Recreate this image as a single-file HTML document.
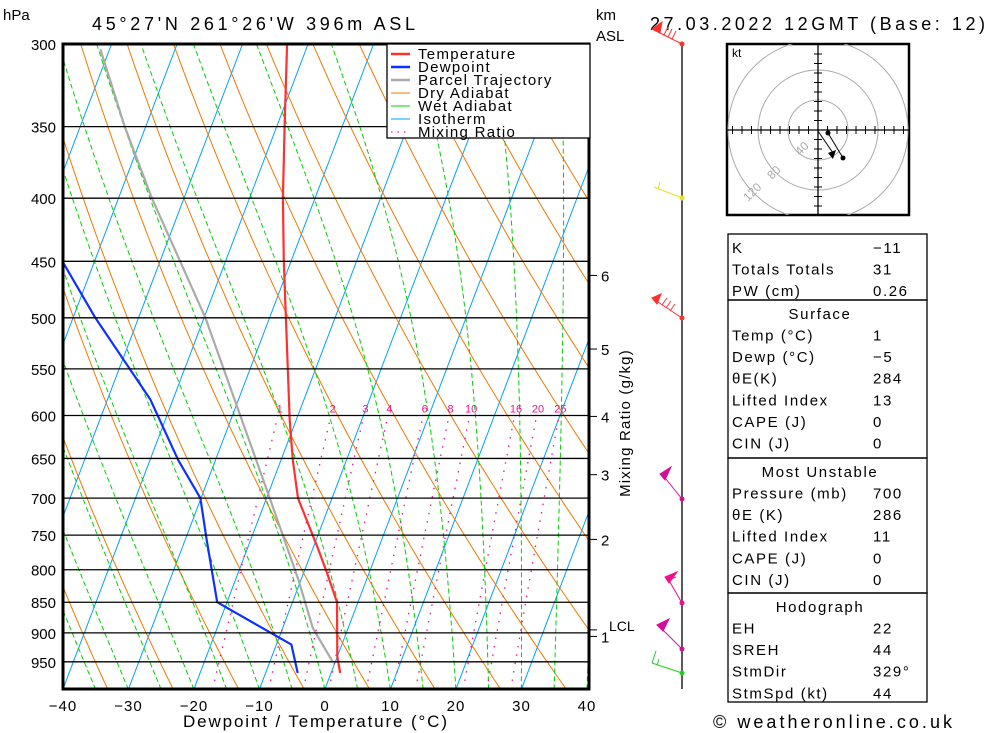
<!DOCTYPE html>
<html><head><meta charset="utf-8">
<style>
html,body{margin:0;padding:0;background:#fff;}
svg{display:block;}
text{font-family:"Liberation Sans","DejaVu Sans",sans-serif;}
</style></head>
<body>
<svg id="chart" width="1000" height="733" viewBox="0 0 1000 733" xmlns="http://www.w3.org/2000/svg">
<defs><clipPath id="plotclip"><rect x="63" y="44" width="525" height="645"/></clipPath>
<clipPath id="hodoclip"><rect x="727" y="44" width="182" height="171"/></clipPath></defs>
<g id="grid" clip-path="url(#plotclip)"></g>
<g id="profiles" clip-path="url(#plotclip)"></g>
<g id="axes"></g>
<g id="winds"></g>
<g id="hodo"></g>
<g id="table"></g>
</svg>
<script>
// ---- data ----
const pressureLevels=[300,350,400,450,500,550,600,650,700,750,800,850,900,950];
const tempTicks=[-40,-30,-20,-10,0,10,20,30,40];
const tempP=[970,941,850,805,768,700,652,605,500,450,400,350,300];
const tempT=[1.4,0.0,-3.2,-6.4,-9.3,-15.2,-18.2,-21.0,-27.5,-31.1,-34.9,-38.8,-43.2];
const dewP=[970,920,850,757,700,652,582,500,450];
const dewT=[-5.1,-7.7,-21.5,-26.7,-30.1,-35.7,-43.5,-56.6,-64.9];
const parcelP=[950,892,815,700,500,400,350,303];
const parcelT=[-0.4,-5.4,-10.4,-19.5,-39.8,-54.9,-63.2,-71.4];
const mixRatios=[1,2,3,4,6,8,10,16,20,25];
const kmLabels=["6","5","4","3","2","1"];
const kmP=[462,530,601,670,756,906];
const lclP=895;

// ---- axes functions ----
const X0=63,PX=6.55,YB=689,SK=0.38,Y300=44,KP=536;
function yP(p){return Y300+KP*Math.log(p/300);}
function xT(t,p){const y=yP(p);return X0+(t+40)*PX+(YB-y)*SK;}
const NS="http://www.w3.org/2000/svg";
function el(tag,attrs,parent){const e=document.createElementNS(NS,tag);for(const k in attrs)e.setAttribute(k,attrs[k]);parent.appendChild(e);return e;}
const grid=document.getElementById('grid'),prof=document.getElementById('profiles'),axes=document.getElementById('axes');

function polyPts(ps,ts){return ps.map((p,i)=>xT(ts[i],p).toFixed(1)+","+yP(p).toFixed(1)).join(" ");}

// isotherms
for(let t=-130;t<=40;t+=10){
  const l=el('line',{x1:xT(t,1000),y1:yP(1000),x2:xT(t,300),y2:yP(300),stroke:'#00a0ff','stroke-width':1},grid);
  
  
}
// dry adiabats
for(let th=190;th<=480;th+=10){
  const pts=[];for(let p=1000;p>=300;p-=10){const T=th*Math.pow(p/1000,0.286)-273.15;pts.push(xT(T,p).toFixed(1)+","+yP(p).toFixed(1));}
  const l=el('polyline',{points:pts.join(" "),fill:'none',stroke:'#f07800','stroke-width':1},grid);
  
  
}
// wet adiabats
function es(tc){return 6.112*Math.exp(17.67*tc/(tc+243.5));}
for(let t0=-40;t0<=40;t0+=5){
  let T=t0+273.15;const pts=[];
  for(let p=1000;p>=300;p-=2){
    pts.push(xT(T-273.15,p).toFixed(1)+","+yP(p).toFixed(1));
    const e=es(T-273.15),rs=0.622*e/(p-e);
    const dTdp=((287*T+2.5e6*rs)/(1004+2.5e6*2.5e6*rs*0.622/(287*T*T)))/p;
    T-=dTdp*2;
  }
  const l=el('polyline',{points:pts.join(" "),fill:'none',stroke:'#00d000','stroke-width':1,'stroke-dasharray':'5,3'},grid);
  
  
}
// mixing ratio lines
function tMix(w,p){const e=w/1000*p/(0.622+w/1000);const L=Math.log(e/6.112);return 243.5*L/(17.67-L);}
mixRatios.forEach(w=>{
  const pts=[];for(let p=1000;p>=600;p-=10)pts.push(xT(tMix(w,p),p).toFixed(1)+","+yP(p).toFixed(1));
  const l=el('polyline',{points:pts.join(" "),fill:'none',stroke:'#f0108c','stroke-width':1.3,'stroke-dasharray':'1.5,7'},grid);
  
  
  const tx=el('text',{x:xT(tMix(w,592),592),y:yP(592)+4,'font-size':11,fill:'#f0108c','text-anchor':'middle'},axes);
  tx.textContent=w;
  
  
});
// profiles
[[parcelP,parcelT,'#aaaaaa','parcel-trajectory'],[dewP,dewT,'#1030ff','dewpoint-line'],[tempP,tempT,'#ff3030','temperature-line']].forEach(a=>{
  const l=el('polyline',{points:polyPts(a[0],a[1]),fill:'none',stroke:a[2],'stroke-width':2.2,'stroke-linejoin':'round'},prof);
  
  
});
// pressure lines & labels
pressureLevels.forEach(p=>{
  const y=yP(p);
  const l=el('line',{x1:63,x2:588,y1:y,y2:y,stroke:'#000','stroke-width':1.3},axes);
  
  
  const t=el('text',{x:56,y:y+6,'font-size':15,'text-anchor':'end',fill:'#000'},axes);
  t.textContent=p;
  
  
});
tempTicks.forEach(t=>{
  const x=X0+(t+40)*PX;
  const tx=el('text',{x:x,y:711,'font-size':15,'text-anchor':'middle',fill:'#000','letter-spacing':1},axes);
  tx.textContent=(t<0?'\u2212'+(-t):t);
  
  
});
// km axis
kmP.forEach((p,i)=>{
  const y=yP(p);
  const l=el('line',{x1:590,x2:597,y1:y,y2:y,stroke:'#000'},axes);
  
  
  const t=el('text',{x:601,y:y+6,'font-size':15,fill:'#000'},axes);
  t.textContent=kmLabels[i];
  
  
});
{const y=yP(lclP);const l=el('line',{x1:590,x2:597,y1:y,y2:y,stroke:'#000'},axes);

}
</script>
<script>
(function(){
const axes=document.getElementById('axes');
axes.insertAdjacentHTML('beforeend',`
<rect x="63" y="44" width="526" height="645" fill="none" stroke="#000" stroke-width="3"/>
<g>
<rect x="387" y="44" width="203" height="94" fill="#fff" stroke="#000" stroke-width="1.3"/>
<line x1="391" x2="410" y1="54" y2="54" stroke="#ff3030" stroke-width="2.5"/>
<line x1="391" x2="410" y1="67" y2="67" stroke="#1030ff" stroke-width="2.5"/>
<line x1="391" x2="410" y1="80" y2="80" stroke="#aaa" stroke-width="2.5"/>
<line x1="391" x2="410" y1="93" y2="93" stroke="#f07800"/>
<line x1="391" x2="410" y1="106" y2="106" stroke="#00d000"/>
<line x1="391" x2="410" y1="119" y2="119" stroke="#00a0ff"/>
<line x1="391" x2="410" y1="132" y2="132" stroke="#f0108c" stroke-width="1.3" stroke-dasharray="1.5,5"/>
<g font-size="15" fill="#000" letter-spacing="1.3">
<text x="418" y="59">Temperature</text>
<text x="418" y="72">Dewpoint</text>
<text x="418" y="85">Parcel Trajectory</text>
<text x="418" y="98">Dry Adiabat</text>
<text x="418" y="111">Wet Adiabat</text>
<text x="418" y="124">Isotherm</text>
<text x="418" y="137">Mixing Ratio</text>
</g></g>
<text x="3" y="20" font-size="15">hPa</text>
<text x="92" y="30" font-size="18" textLength="323" lengthAdjust="spacing">45°27'N  261°26'W  396m  ASL</text>
<text x="596" y="20" font-size="15">km</text>
<text x="596" y="41" font-size="15">ASL</text>
<text x="650" y="30" font-size="18" textLength="335" lengthAdjust="spacing">27.03.2022  12GMT  (Base: 12)</text>
<text x="609" y="631" font-size="14">LCL</text>
<text transform="translate(630,423) rotate(-90)" text-anchor="middle" font-size="15" letter-spacing="1.2">Mixing Ratio (g/kg)</text>
<text x="183" y="727" font-size="17" textLength="264" lengthAdjust="spacing">Dewpoint / Temperature (°C)</text>
<text x="713" y="728" font-size="18" textLength="239" lengthAdjust="spacing">© weatheronline.co.uk</text>
`);
const winds=document.getElementById('winds');
winds.insertAdjacentHTML('beforeend',`
<line x1="682" y1="44" x2="682" y2="689" stroke="#000" stroke-width="1.3"/>
<g stroke="#ff3030" fill="#ff3030">
<line x1="682" y1="44" x2="652" y2="29"/><polygon points="652,29 662,22 660,33"/>
<line x1="664" y1="35" x2="668" y2="27"/><line x1="668" y1="37" x2="672" y2="29"/><line x1="672" y1="39" x2="676" y2="31"/>
<circle cx="682" cy="44" r="2.5" stroke="none"/></g>
<g stroke="#e8e020" fill="#e8e020">
<line x1="682" y1="198" x2="654" y2="187"/><line x1="658" y1="189" x2="660" y2="182"/><circle cx="682" cy="198" r="2.5" stroke="none"/></g>
<g stroke="#ff3030" fill="#ff3030">
<line x1="682" y1="318" x2="652" y2="298"/><polygon points="652,298 661,294 657,304"/>
<line x1="662" y1="305" x2="667" y2="298"/><line x1="666" y1="308" x2="671" y2="301"/><line x1="670" y1="311" x2="675" y2="304"/>
<circle cx="682" cy="318" r="2.5" stroke="none"/></g>
<g stroke="#d0109c" fill="#d0109c">
<line x1="682" y1="499" x2="662" y2="474"/><polygon points="660,474 671,467 665,480"/><circle cx="682" cy="499" r="2.5" stroke="none"/></g>
<g stroke="#f0108c" fill="#f0108c">
<line x1="682" y1="603" x2="667" y2="577"/><polygon points="665,577 677,572 669,583"/><line x1="668" y1="580" x2="676" y2="577"/><circle cx="682" cy="603" r="2.5" stroke="none"/></g>
<g stroke="#d0109c" fill="#d0109c">
<line x1="682" y1="649" x2="658" y2="625"/><polygon points="657,625 669,619 663,631"/><circle cx="682" cy="649" r="2.5" stroke="none"/></g>
<g stroke="#20d020" fill="#20d020">
<line x1="682" y1="673" x2="652" y2="663"/><line x1="652" y1="663" x2="656" y2="651"/><line x1="657" y1="665" x2="659" y2="659"/><circle cx="682" cy="673" r="2.5" stroke="none"/></g>
`);
const hodo=document.getElementById('hodo');
let ticks='';
for(let i=-9;i<=9;i++){if(i===0)continue;const d=i*9.5;
ticks+=`<line x1="${818+d}" x2="${818+d}" y1="126" y2="134" stroke="#000"/><line x1="814" x2="822" y1="${130+d}" y2="${130+d}" stroke="#000"/>`;}
hodo.insertAdjacentHTML('beforeend',`
<rect x="727" y="44" width="182" height="171" fill="#fff" stroke="#000" stroke-width="2.5"/>
<g clip-path="url(#hodoclip)">
<circle cx="818" cy="130" r="30" fill="none" stroke="#aaa"/>
<circle cx="818" cy="130" r="60" fill="none" stroke="#aaa"/>
<circle cx="818" cy="130" r="90" fill="none" stroke="#aaa"/>
</g>
<line x1="727" x2="909" y1="130" y2="130" stroke="#000" stroke-width="1.3"/>
<line x1="818" x2="818" y1="44" y2="215" stroke="#000" stroke-width="1.3"/>
${ticks}
<text x="732" y="57" font-size="12">kt</text>
<text x="800" y="156" font-size="12" fill="#aaa" transform="rotate(-45 800 156)">40</text>
<text x="772" y="180" font-size="12" fill="#aaa" transform="rotate(-45 772 180)">80</text>
<text x="748" y="202" font-size="12" fill="#aaa" transform="rotate(-45 748 202)">120</text>
<line x1="818" y1="131" x2="833" y2="153" stroke="#000"/>
<polygon points="828,153 836,150 833,159" fill="#000"/>
<line x1="828" y1="133" x2="843" y2="158" stroke="#000"/>
<circle cx="828" cy="133" r="2.5"/><circle cx="843" cy="158" r="2.5"/>
`);
const rows=[
 [234,300,[['K','−11'],['Totals Totals','31'],['PW (cm)','0.26']],null],
 [300,458,[['Temp (°C)','1'],['Dewp (°C)','−5'],['θE(K)','284'],['Lifted Index','13'],['CAPE (J)','0'],['CIN (J)','0']],'Surface'],
 [458,593,[['Pressure (mb)','700'],['θE (K)','286'],['Lifted Index','11'],['CAPE (J)','0'],['CIN (J)','0']],'Most Unstable'],
 [593,702,[['EH','22'],['SREH','44'],['StmDir','329°'],['StmSpd (kt)','44']],'Hodograph']
];
const tb=document.getElementById('table');
let h='';
rows.forEach(r=>{
 h+=`<rect x="728" y="${r[0]}" width="199" height="${r[1]-r[0]}" fill="none" stroke="#000" stroke-width="1.3"/>`;
 let y=r[0]+17;
 if(r[3]){h+=`<text x="820" y="${y+2}" text-anchor="middle" font-size="15" letter-spacing="1.6">${r[3]}</text>`;y+=21.5;}
 r[2].forEach(c=>{h+=`<text x="732" y="${y+2}" font-size="15" letter-spacing="1.6">${c[0]}</text><text x="873" y="${y+2}" font-size="15" letter-spacing="1.6">${c[1]}</text>`;y+=21.6;});
});
tb.insertAdjacentHTML('beforeend',h);
})();
</script>
</body></html>
